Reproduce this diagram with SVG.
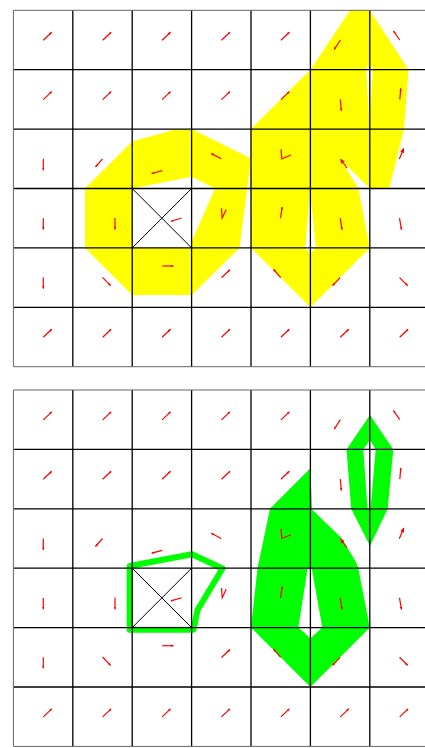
<svg xmlns="http://www.w3.org/2000/svg" xmlns:xlink="http://www.w3.org/1999/xlink" width="425" height="748" viewBox="0 0 425 748">
<style>
.grid{stroke:#000;stroke-width:1.3;fill:none}
.border{stroke:#666;stroke-width:1;fill:none}
.xline{stroke:#000;stroke-width:1;fill:none}
.arr{stroke:#f00;stroke-width:1.2;fill:none;marker-end:url(#ah)}
.arr2{stroke:#f00;stroke-width:1.2;fill:none;marker-end:url(#ah2)}
.arrv{stroke:#f00;stroke-width:1.2;fill:none}
.band{fill:#ff0;fill-rule:evenodd}
.green{fill:#0f0;fill-rule:evenodd}
.gline{fill:none;stroke:#0f0;stroke-width:6;stroke-linejoin:round}
</style>
<defs>
<marker id="ah" viewBox="0 0 6 6" refX="5" refY="3" markerWidth="3" markerHeight="3" markerUnits="userSpaceOnUse" orient="auto"><path d="M0,0.8 L6,3 L0,5.2 z" fill="#f00"/></marker>
<marker id="ah2" viewBox="0 0 6 6" refX="5" refY="3" markerWidth="5" markerHeight="5" markerUnits="userSpaceOnUse" orient="auto"><path d="M0,0.5 L6,3 L0,5.5 z" fill="#f00"/></marker>
</defs>
<rect width="425" height="748" fill="#fff"/>

<g id="top-fills">
<path id="top-ring" class="band" d="M85,188.5 L132.2,141.5 L176.7,129.1 L191.6,129.1 L251,158.5 L239.5,247.9 L191.6,295 L132.2,295 L85,247.9 Z M132.2,188.5 L191.6,176.7 L215,188.5 L191.6,241.7 L191.6,247.9 L132.2,247.9 Z"/>
<path id="top-big" class="band" d="M350,10.3 L369.8,10.3 L408.5,69.7 L404,129.1 L389.2,188.5 L369.8,188.5 L341,160 L358.4,188.5 L369.8,247.9 L310.4,307.3 L251,247.9 L251,129.1 L310.4,69.7 Z M366,66.8 L372.8,66.8 L369.8,128.5 Z M310.2,190 L315.8,247.9 L310.4,253.5 L305,247.9 Z"/>
</g>

<g id="overlay">
<g id="grid">
<path class="grid" d="M13.4,69.7 H430 M13.4,129.1 H430 M13.4,188.5 H430 M13.4,247.9 H430 M13.4,307.3 H430 M72.8,10.3 V366.7 M132.2,10.3 V366.7 M191.6,10.3 V366.7 M251,10.3 V366.7 M310.4,10.3 V366.7 M369.8,10.3 V366.7"/>
<path class="border" d="M13.4,10.3 H430 M13.4,366.7 H430 M13.4,10.3 V366.7"/>
<path class="xline" d="M132.2,188.5 L191.6,247.9 M191.6,188.5 L132.2,247.9"/>
</g>
<g id="arrows">
<path class="arr" d="M43.3,40.2 L51.7,32.2"/>
<path class="arr" d="M102.7,40.2 L111.1,32.2"/>
<path class="arr" d="M162.1,40.2 L170.5,32.2"/>
<path class="arr" d="M221.5,40.2 L229.9,32.2"/>
<path class="arr" d="M280.9,40.2 L289.3,32.2"/>
<path class="arr" d="M340.4,40 L334.3,49.3"/>
<path class="arr" d="M399.7,40 L393.5,31"/>

<path class="arr" d="M43.3,99.6 L51.7,91.6"/>
<path class="arr" d="M102.7,99.6 L111.1,91.6"/>
<path class="arr" d="M162.1,99.6 L170.5,91.6"/>
<path class="arr" d="M221.5,99.6 L229.9,91.6"/>
<path class="arr" d="M280.9,99.6 L289.3,91.6"/>
<path class="arr" d="M340.3,99.4 L341.3,110.7"/>
<path class="arr" d="M399.8,99.4 L400.8,88.3"/>

<path class="arr" d="M43.3,158.8 L43.3,170.2"/>
<path class="arr" d="M102.5,158.8 L95.5,166.8"/>
<path class="arr" d="M162.3,170.7 L151.7,173.5"/>
<path class="arr" d="M221.3,158.8 L211.3,153.6"/>
<path class="arrv" d="M281,149.2 L281.8,158.8 L291,155"/>
<path class="arr2" d="M347,168 L340.7,159.3"/>
<path class="arr2" d="M399.3,159 L403.7,148.5"/>

<path class="arr" d="M43.3,218.2 L43.3,229.5"/>
<path class="arr" d="M115,217.9 L115,229.5"/>
<path class="arr" d="M181.7,218 L171,221.2"/>
<path class="arrv" d="M221.5,208.3 L222.2,218 L226.2,209.5"/>
<path class="arr" d="M280.5,218.2 L282.2,207"/>
<path class="arr" d="M340.2,218.2 L342,229.7"/>
<path class="arr" d="M399.5,218.2 L401.5,229.7"/>

<path class="arr" d="M43.3,277.6 L43.3,288.6"/>
<path class="arr" d="M102.5,277.3 L110.6,285.6"/>
<path class="arr" d="M162.3,266 L173.5,266"/>
<path class="arr" d="M221.5,277.8 L229.9,269.8"/>
<path class="arr" d="M280.7,277.6 L273.5,269.4"/>
<path class="arr" d="M340.1,277.6 L332.6,285.6"/>
<path class="arr" d="M399.5,277.6 L407.6,285.6"/>

<path class="arr" d="M43.3,337.2 L51.7,329.2"/>
<path class="arr" d="M102.7,337.2 L111.1,329.2"/>
<path class="arr" d="M162.1,337.2 L170.5,329.2"/>
<path class="arr" d="M221.5,337.2 L229.9,329.2"/>
<path class="arr" d="M280.9,337.2 L289.3,329.2"/>
<path class="arr" d="M340.3,337.2 L348.7,329.2"/>
<path class="arr" d="M399.7,337.2 L408.1,329.2"/>
</g>
</g>

<g id="bottom-fills">
<polygon id="bottom-ring" class="gline" points="129.7,566 192,554.2 222.5,568.5 197.5,610 193.5,629.7 129.7,629.7"/>
<path id="bottom-loop" class="green" d="M370,415 L393.3,449.4 L387.7,508.8 L370,546 L351.2,508.8 L346.5,449.4 Z M370,440 L375.7,449.4 L370.5,508.8 L367.5,508.8 L363.3,449.4 Z"/>
<path id="bottom-big" class="green" d="M310.4,468.3 L312,509.5 L341,537.5 L356,562 L358.3,568.2 L369.8,627.6 L310.4,687 L251,627.6 L257.5,568.2 L270,508.8 Z M307.7,568.2 L311.7,568.2 L322.3,627.6 L310.4,638.3 L298.3,627.6 Z"/>
</g>
<use id="overlay-bottom" href="#overlay" xlink:href="#overlay" transform="translate(0,379.7)"/>
</svg>
